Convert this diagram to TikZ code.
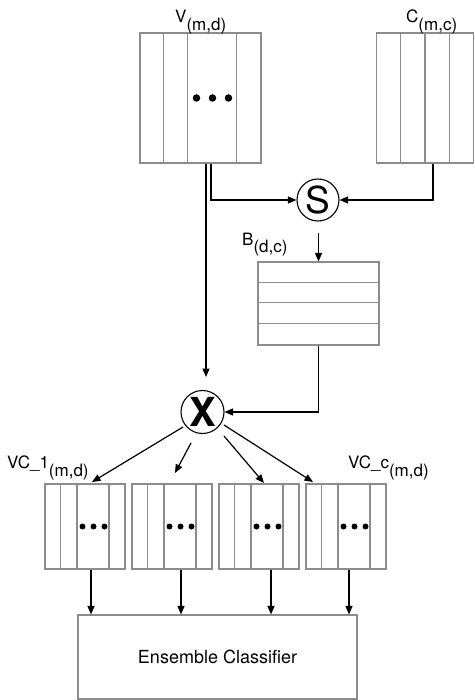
\documentclass[tikz,border=0pt]{standalone}
\usepackage{fontspec}
\setmainfont{TeX Gyre Heros}
\usetikzlibrary{arrows.meta}
\definecolor{boxgray}{HTML}{8C8C8C}
\begin{document}
\begin{tikzpicture}[x=1pt,y=-1pt,
  box/.style={draw=boxgray, line width=1.1pt, rectangle, inner sep=0pt},
  grid/.style={draw=boxgray, line width=1.1pt},
  arr/.style={draw=black, line width=1.2pt, -{Triangle[length=8.5pt,width=7pt]}},
  op/.style={draw=black, line width=1.1pt, circle, inner sep=0pt, minimum size=42pt},
  lbl/.style={anchor=base west, inner sep=0pt, font=\fontsize{17}{19}\selectfont},
  dot/.style={fill=black, circle, inner sep=0pt}
]
\useasboundingbox (0,0) rectangle (474,700);
\fill[white] (0,0) rectangle (474,700);

% V matrix
\node[box, minimum width=121pt, minimum height=130pt] (V) at (200.5,98) {};
\foreach \o in {24,48,97}
  \draw[grid] ([xshift=\o pt]V.north west) -- ([xshift=\o pt]V.south west);
\foreach \o in {-16,0,16}
  \node[dot, minimum size=7.5pt] at ([xshift=\o pt+12pt]V.center) {};
\node[lbl] (Vl) at (175,23) {V\raisebox{-8pt}{(m,d)}};

% C matrix
\node[box, minimum width=97pt, minimum height=130pt] (C) at (425,98) {};
\foreach \o in {24.5,49,73.5}
  \draw[grid] ([xshift=\o pt]C.north west) -- ([xshift=\o pt]C.south west);
\node[lbl] (Cl) at (406,23) {C\raisebox{-8pt}{(m,c)}};

% S operator
\node[op] (S) at (318,200) {\fontsize{37}{40}\selectfont S};

% B matrix
\node[box, minimum width=121pt, minimum height=83pt] (B) at (318.5,303.5) {};
\foreach \o in {21,41,62}
  \draw[grid] ([yshift=-\o pt]B.north west) -- ([yshift=-\o pt]B.north east);
\node[lbl] (Bl) at (242,245) {B\raisebox{-8pt}{(d,c)}};

% X operator
\node[op, minimum size=43pt] (X) at (202.5,412) {\fontsize{40}{44}\selectfont\bfseries X};

% VC matrices
\foreach \n/\cx in {1/85,2/172,3/259,4/346} {
  \node[box, minimum width=80pt, minimum height=85pt] (VC\n) at (\cx,526.5) {};
  \foreach \o in {16,32.5,64.5}
    \draw[grid] ([xshift=\o pt]VC\n.north west) -- ([xshift=\o pt]VC\n.south west);
  \foreach \o in {-11,0,11}
    \node[dot, minimum size=6pt] at ([xshift=\o pt+8.5pt]VC\n.center) {};
}
\node[lbl] (VC1l) at (7,468) {VC\_1\raisebox{-8pt}{(m,d)}};
\node[lbl] (VC4l) at (348,468) {VC\_c\raisebox{-8pt}{(m,d)}};

% Ensemble classifier
\node[box, minimum width=279pt, minimum height=84pt,
      font=\fontsize{18}{20}\selectfont] (E) at (217.5,657) {Ensemble Classifier};

% connectors
\coordinate (xin) at (206,377);
\draw[arr] ([xshift=5.5pt]V.south) -- (xin);
\draw[arr] ([xshift=10.5pt]V.south) |- (S.west);
\draw[arr] ([xshift=8pt]C.south) |- (S.east);
\coordinate (sout) at (318.5,233);
\draw[arr] (sout) -- (B.north);
\draw[arr] (B.south) |- (X.east);

\coordinate (a1s) at (183,427); \coordinate (a1e) at (92,482);
\coordinate (a2s) at (191,443); \coordinate (a2e) at (175,473);
\coordinate (a3s) at (224,436); \coordinate (a3e) at (264,483);
\coordinate (a4s) at (224,425); \coordinate (a4e) at (313,482);
\draw[arr] (a1s) -- (a1e);
\draw[arr] (a2s) -- (a2e);
\draw[arr] (a3s) -- (a3e);
\draw[arr] (a4s) -- (a4e);

\foreach \n/\dx in {1/6,2/9,3/12,4/3}
  \draw[arr] ([xshift=\dx pt]VC\n.south) -- ([xshift=\dx pt]VC\n.south |- E.north);
\end{tikzpicture}
\end{document}
